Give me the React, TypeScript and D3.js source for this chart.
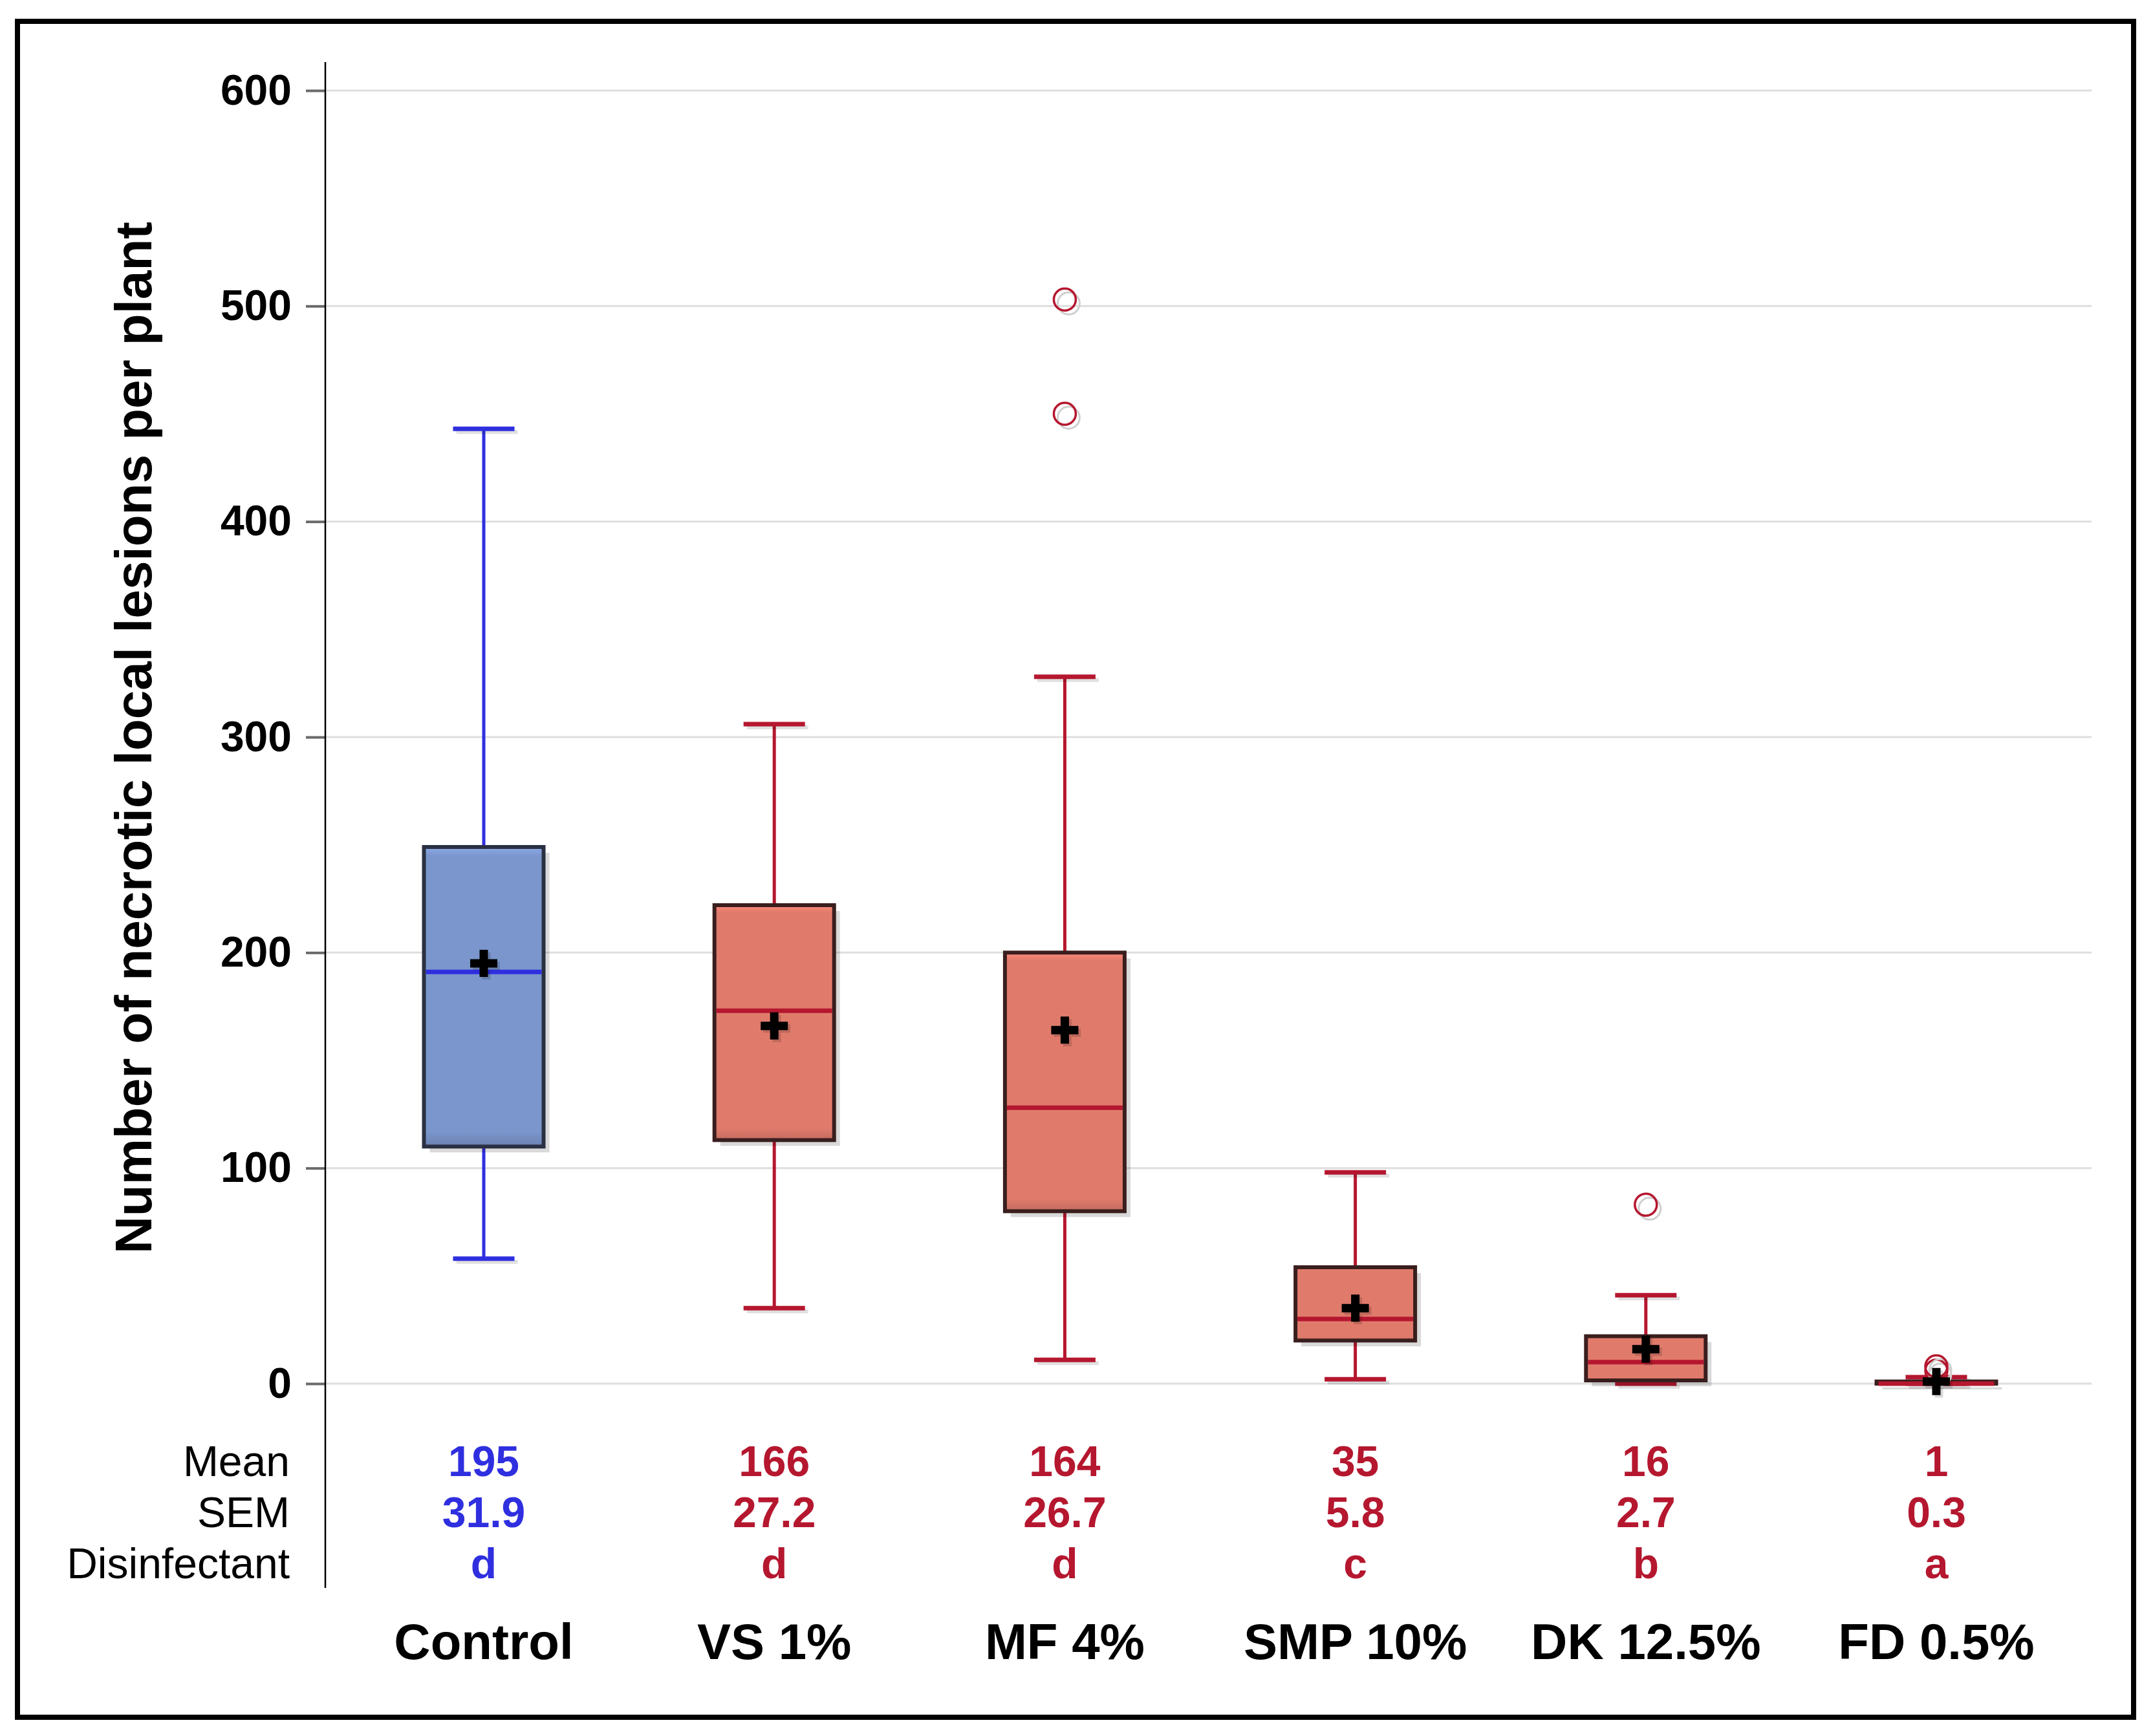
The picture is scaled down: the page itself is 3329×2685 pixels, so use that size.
import { useEffect, useRef } from "react";
import * as d3 from "d3";

const categories = ["Control", "VS 1%", "MF 4%", "SMP 10%", "DK 12.5%", "FD 0.5%"];
const whiskerLow = [58, 35, 11, 2, 0, 0];
const q1 = [110, 113, 80, 20, 1.5, 0];
const medians = [191, 173, 128, 30, 10, 0];
const q3 = [249, 222, 200, 54, 22, 1];
const whiskerHigh = [443, 306, 328, 98, 41, 3];
const means = [195, 166, 164, 35, 16, 1];
const outliers = [[], [], [503, 450], [], [83], [6, 8]];
const meanLabels = ["195", "166", "164", "35", "16", "1"];
const semLabels = ["31.9", "27.2", "26.7", "5.8", "2.7", "0.3"];
const groupLetters = ["d", "d", "d", "c", "b", "a"];
const yTicks = [0, 100, 200, 300, 400, 500, 600];

const FONT = "'Liberation Sans', Arial, sans-serif";

export default function App() {
    const svgRef = useRef<SVGSVGElement | null>(null);

    useEffect(() => {
        if (!svgRef.current) return;
        const svg = d3.select(svgRef.current);
        svg.selectAll("*").remove();

        const width = 3329;
        const height = 2685;

        svg.attr("width", width).attr("height", height);

        const x = d3.scalePoint<string>().domain(categories).range([748, 2994]);
        const y = d3.scaleLinear().domain([0, 600]).range([2140, 140]);
        const boxW = 185;
        const capW = 95;

        const lineColor = (i: number) => (i === 0 ? "#2f2fe0" : "#b5172f");
        const edgeColor = (i: number) => (i === 0 ? "#2a3042" : "#3a1e1e");

        // background
        svg.append("rect").attr("width", width).attr("height", height).attr("fill", "#fff");

        // gradients for boxes
        const defs = svg.append("defs");
        [0, 1].forEach((k) => {
            const base = d3.color(k === 0 ? "#7b96cc" : "#e07b6c")!;
            const g = defs
                .append("linearGradient")
                .attr("id", `boxgrad${k}`)
                .attr("x1", 0)
                .attr("y1", 0)
                .attr("x2", 0)
                .attr("y2", 1);
            g.append("stop").attr("offset", "0%").attr("stop-color", base.brighter(0.35).formatHex());
            g.append("stop").attr("offset", "3%").attr("stop-color", base.formatHex());
            g.append("stop").attr("offset", "95%").attr("stop-color", base.formatHex());
            g.append("stop").attr("offset", "100%").attr("stop-color", base.darker(0.4).formatHex());
        });

        // gridlines
        svg.append("g")
            .selectAll("line")
            .data(yTicks)
            .enter()
            .append("line")
            .attr("x1", 503)
            .attr("x2", 3234)
            .attr("y1", (d) => y(d))
            .attr("y2", (d) => y(d))
            .attr("stroke", "#dedede")
            .attr("stroke-width", 3);

        // Y axis
        const yAxis = svg
            .append("g")
            .attr("transform", "translate(503,0)")
            .call(d3.axisLeft(y).tickValues(yTicks).tickSize(30).tickPadding(22));
        yAxis.select(".domain").remove();
        yAxis.selectAll(".tick line").attr("stroke", "#6a6a6a").attr("stroke-width", 4);
        yAxis
            .selectAll(".tick text")
            .attr("font-family", FONT)
            .attr("font-size", 66)
            .attr("font-weight", "bold")
            .attr("fill", "#000");

        svg.append("line")
            .attr("x1", 503)
            .attr("x2", 503)
            .attr("y1", 96)
            .attr("y2", 2456)
            .attr("stroke", "#000")
            .attr("stroke-width", 2.5);

        // Y axis title
        svg.append("text")
            .attr("transform", `translate(234,${(350 + 1932) / 2}) rotate(-90)`)
            .attr("text-anchor", "middle")
            .attr("font-family", FONT)
            .attr("font-size", 80)
            .attr("font-weight", "bold")
            .text("Number of necrotic local lesions per plant");

        const groups = svg
            .append("g")
            .selectAll("g.box")
            .data(categories)
            .enter()
            .append("g")
            .attr("class", "box");

        groups.each(function (c, i) {
            const g = d3.select(this);
            const cx = x(c)!;
            const col = lineColor(i);

            // whiskers
            g.append("line")
                .attr("x1", cx)
                .attr("x2", cx)
                .attr("y1", y(whiskerHigh[i]))
                .attr("y2", y(whiskerLow[i]))
                .attr("stroke", col)
                .attr("stroke-width", 5);
            [whiskerHigh[i], whiskerLow[i]].forEach((v) => {
                g.append("line")
                    .attr("x1", cx - capW / 2 + 5)
                    .attr("x2", cx + capW / 2 + 5)
                    .attr("y1", y(v) + 5)
                    .attr("y2", y(v) + 5)
                    .attr("stroke", "#000")
                    .attr("stroke-opacity", 0.12)
                    .attr("stroke-width", 6);
                g.append("line")
                    .attr("x1", cx - capW / 2)
                    .attr("x2", cx + capW / 2)
                    .attr("y1", y(v))
                    .attr("y2", y(v))
                    .attr("stroke", col)
                    .attr("stroke-width", 7);
            });

            // box shadow + box
            const top = y(q3[i]);
            const bh = Math.max(y(q1[i]) - top, 1);
            g.append("rect")
                .attr("x", cx - boxW / 2 + 9)
                .attr("y", top + 9)
                .attr("width", boxW)
                .attr("height", bh)
                .attr("fill", "#000")
                .attr("fill-opacity", 0.15);
            g.append("rect")
                .attr("x", cx - boxW / 2)
                .attr("y", top)
                .attr("width", boxW)
                .attr("height", bh)
                .attr("fill", `url(#boxgrad${i === 0 ? 0 : 1})`)
                .attr("stroke", edgeColor(i))
                .attr("stroke-width", 6);

            // median
            g.append("line")
                .attr("x1", cx - boxW / 2 + 3)
                .attr("x2", cx + boxW / 2 - 3)
                .attr("y1", y(medians[i]))
                .attr("y2", y(medians[i]))
                .attr("stroke", col)
                .attr("stroke-width", 7);

            // outliers
            outliers[i].forEach((v) => {
                g.append("circle")
                    .attr("cx", cx + 6)
                    .attr("cy", y(v) + 6)
                    .attr("r", 17)
                    .attr("fill", "none")
                    .attr("stroke", "#cfcfcf")
                    .attr("stroke-width", 3);
                g.append("circle")
                    .attr("cx", cx)
                    .attr("cy", y(v))
                    .attr("r", 17)
                    .attr("fill", "none")
                    .attr("stroke", col)
                    .attr("stroke-width", 3.5);
            });

            // mean plus
            const my = y(means[i]);
            const arm = 21;
            g.append("path")
                .attr("d", `M${cx - arm + 4},${my + 4}H${cx + arm + 4}M${cx + 4},${my - arm + 4}V${my + arm + 4}`)
                .attr("stroke", "#000")
                .attr("stroke-opacity", 0.15)
                .attr("stroke-width", 13);
            g.append("path")
                .attr("d", `M${cx - arm},${my}H${cx + arm}M${cx},${my - arm}V${my + arm}`)
                .attr("stroke", "#000")
                .attr("stroke-width", 13);
        });

        // statistics table
        const rowLabels = ["Mean", "SEM", "Disinfectant"];
        const rowY = [2283, 2362, 2441];
        const rowValues = [meanLabels, semLabels, groupLetters];

        svg.append("g")
            .selectAll("text")
            .data(rowLabels)
            .enter()
            .append("text")
            .attr("x", 448)
            .attr("y", (_, k) => rowY[k])
            .attr("text-anchor", "end")
            .attr("font-family", FONT)
            .attr("font-size", 66)
            .attr("fill", "#000")
            .text((d) => d);

        rowValues.forEach((vals, k) => {
            svg.append("g")
                .selectAll("text")
                .data(vals)
                .enter()
                .append("text")
                .attr("x", (_, i) => x(categories[i])!)
                .attr("y", rowY[k])
                .attr("text-anchor", "middle")
                .attr("font-family", FONT)
                .attr("font-size", 66)
                .attr("font-weight", "bold")
                .attr("fill", (_, i) => lineColor(i))
                .text((d) => d);
        });

        // category labels
        svg.append("g")
            .selectAll("text")
            .data(categories)
            .enter()
            .append("text")
            .attr("x", (d) => x(d)!)
            .attr("y", 2566)
            .attr("text-anchor", "middle")
            .attr("font-family", FONT)
            .attr("font-size", 78)
            .attr("font-weight", "bold")
            .attr("fill", "#000")
            .text((d) => d);

        // outer frame
        svg.append("rect")
            .attr("x", 27)
            .attr("y", 33)
            .attr("width", 3272)
            .attr("height", 2623)
            .attr("fill", "none")
            .attr("stroke", "#000")
            .attr("stroke-width", 8);
    }, []);

    return (
        <svg
            ref={svgRef}
            style={{ position: "absolute", left: 0, top: 0, display: "block" }}
        />
    );
}
